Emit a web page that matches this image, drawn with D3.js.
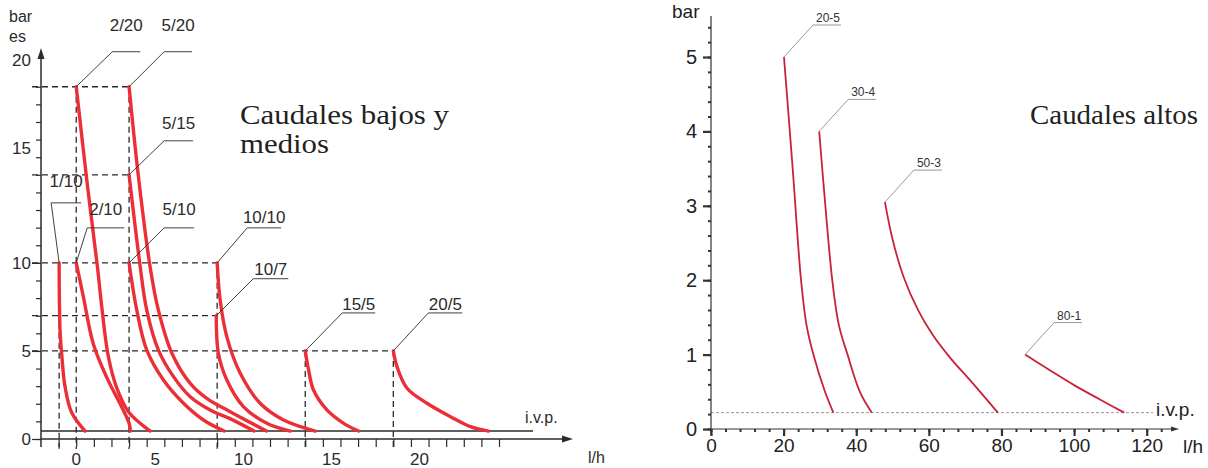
<!DOCTYPE html>
<html>
<head>
<meta charset="utf-8">
<script src="https://cdn.jsdelivr.net/npm/d3@7"></script>
<style>
body { margin: 0; background: #fff; }
svg { display: block; font-family: "Liberation Sans", Arial, sans-serif; }
.serif { font-family: "Liberation Serif", "Times New Roman", serif; }
</style>
</head>
<body>
<div id="graphic"></div>
<script>
// ---- left panel: caudales bajos y medios (x = l/h, y = bar) ----
var lowNames = ["1/10", "2/10", "2/20", "5/10", "5/15", "5/20", "10/10", "10/7", "15/5", "20/5"];
var low_1_10  = [[-0.97,10],[-0.92,6.2],[-0.8,4.5],[-0.64,3.0],[-0.26,1.5],[0.5,0.45]];
var low_2_10  = [[0,10],[0.4,8.1],[0.97,5.4],[1.73,3.5],[2.49,2.0],[3.0,0.9],[3.08,0.45]];
var low_2_20  = [[0,20],[0.6,14.7],[1.2,9.8],[1.45,7.5],[1.82,4.7],[2.3,2.9],[2.96,1.55],[4.2,0.45]];
var low_5_10  = [[3,10],[3.44,7.3],[4.0,5.06],[4.95,3.35],[6.09,2.03],[7.22,1.08],[8.4,0.45]];
var low_5_15  = [[3,15],[3.63,9.8],[4.0,7.33],[4.66,5.06],[5.52,3.54],[6.47,2.4],[7.6,1.65],[8.7,1.17],[10.1,0.45]];
var low_5_20  = [[3,20],[3.53,14.9],[4.19,9.8],[4.66,7.33],[5.43,4.87],[6.47,3.16],[7.41,2.31],[8.74,1.55],[10.8,0.45]];
var low_10_10 = [[8,10],[8.17,7.9],[8.55,5.8],[9.31,3.73],[10.44,2.03],[11.77,1.08],[13.57,0.45]];
var low_10_7  = [[7.95,7],[8.07,4.87],[8.55,3.35],[9.49,1.84],[10.82,0.89],[12.15,0.45]];
var low_15_5  = [[13,5],[13.19,3.92],[13.47,2.78],[14.23,1.65],[15.18,0.89],[16.03,0.45]];
var low_20_5  = [[18,5],[18.21,4.11],[18.78,2.88],[19.91,2.03],[21.24,1.27],[22.38,0.7],[23.4,0.45]];
var lowCurves = [low_1_10, low_2_10, low_2_20, low_5_10, low_5_15, low_5_20, low_10_10, low_10_7, low_15_5, low_20_5];
var lowIvp = 0.45;
var lowXLabels = [0, 5, 10, 15, 20];
var lowYLabels = [0, 5, 10, 15, 20];

// ---- right panel: caudales altos ----
var highNames = ["20-5", "30-4", "50-3", "80-1"];
var high_20_5 = [[20.1,5],[22.5,3.5],[24.8,2],[26.3,1.4],[28.2,1.0],[31.4,0.5],[33.7,0.22]];
var high_30_4 = [[29.8,4],[31.5,3],[33.4,2],[35.2,1.4],[37.6,1.0],[41,0.5],[44.3,0.22]];
var high_50_3 = [[47.9,3.05],[50,2.55],[53,2.05],[57,1.6],[61,1.27],[66,0.95],[72,0.62],[79,0.22]];
var high_80_1 = [[86.5,1.0],[93,0.8],[100,0.59],[107,0.4],[113.8,0.22]];
var highCurves = [high_20_5, high_30_4, high_50_3, high_80_1];
var highIvp = 0.22;
var highXTicks = [0, 20, 40, 60, 80, 100, 120];
var highYTicks = [0, 1, 2, 3, 4, 5];

var width = 1208, height = 468;
var ink = "#2b2b2b";

var svg = d3.select("#graphic").append("svg")
	.attr("width", width)
	.attr("height", height);

// leader offsets for the left labels: [elbow dx, elbow dy, line length, text gap]
var lowLeader = {
	"1/10": [-8, -60, 30, 16],
	"2/10": [11, -35, 37, 13],
	"2/20": [36, -35, 28, 21],
	"5/20": [35, -35, 28, 21],
	"5/15": [35, -34, 29, 12],
	"5/10": [35, -35, 30, 13],
	"10/10": [30, -35, 34, 5],
	"10/7": [37, -37, 35, 4],
	"15/5": [37, -38, 33, 3],
	"20/5": [35, -38, 34, 3]
};

/* ================= LEFT PANEL ================= */
var xL = d3.scaleLinear().domain([-2, 28.2]).range([41, 573]);
var yL = d3.scaleLinear().domain([0, 22.2]).range([439, 48]);

var left = svg.append("g").attr("class", "left");

// dashed guides from every curve start
var lowStarts = lowCurves.map(function(c, i) { return {name: lowNames[i], x: c[0][0], y: c[0][1]}; });
var hGuides = d3.rollups(lowStarts, function(v) { return d3.max(v, function(d) { return d.x; }); }, function(d) { return d.y; });
var vGuides = d3.rollups(lowStarts, function(v) { return d3.max(v, function(d) { return d.y; }); }, function(d) { return Math.round(d.x); });

left.selectAll(".hguide").data(hGuides).enter().append("line")
	.attr("class", "hguide")
	.attr("x1", xL(-2) - 9)
	.attr("x2", function(d) { return xL(d[1]); })
	.attr("y1", function(d) { return yL(d[0]); })
	.attr("y2", function(d) { return yL(d[0]); })
	.attr("stroke", ink).attr("stroke-width", 1.3).attr("stroke-dasharray", "6,4");

left.selectAll(".vguide").data(vGuides).enter().append("line")
	.attr("class", "vguide")
	.attr("x1", function(d) { var s = lowStarts.find(function(p) { return Math.round(p.x) === d[0]; }); return xL(s.x); })
	.attr("x2", function(d) { var s = lowStarts.find(function(p) { return Math.round(p.x) === d[0]; }); return xL(s.x); })
	.attr("y1", function(d) { return yL(d[1]); })
	.attr("y2", yL(0) + 10)
	.attr("stroke", ink).attr("stroke-width", 1.3).attr("stroke-dasharray", "6,4");

// y axis ticks
left.append("g")
	.attr("transform", "translate(" + xL(-2) + ",0)")
	.call(d3.axisLeft(yL).tickValues(d3.range(0, 21)).tickSize(5).tickFormat(""))
	.call(function(g) { g.select(".domain").remove(); g.selectAll("line").attr("stroke", ink).attr("stroke-width", 1.2); });
left.append("g")
	.attr("transform", "translate(" + xL(-2) + ",0)")
	.call(d3.axisLeft(yL).tickValues([0, 5, 10]).tickSize(9).tickFormat(""))
	.call(function(g) { g.select(".domain").remove(); g.selectAll("line").attr("stroke", ink).attr("stroke-width", 1.2); });

// x axis ticks
left.append("g")
	.attr("transform", "translate(0," + yL(0) + ")")
	.call(d3.axisBottom(xL).tickValues(d3.range(-1, 25)).tickSize(8).tickFormat(""))
	.call(function(g) { g.select(".domain").remove(); g.selectAll("line").attr("stroke", ink).attr("stroke-width", 1.2); });

// axis lines + arrows
left.append("line").attr("x1", xL(-2)).attr("x2", xL(-2)).attr("y1", yL(0) + 8).attr("y2", yL(22.2) + 4)
	.attr("stroke", ink).attr("stroke-width", 1.5);
left.append("path")
	.attr("d", "M" + xL(-2) + "," + yL(22.2) + "l-3.5,11l7,0z")
	.attr("fill", ink);
left.append("line").attr("x1", xL(-2)).attr("x2", xL(28.2) - 4).attr("y1", yL(0)).attr("y2", yL(0))
	.attr("stroke", ink).attr("stroke-width", 1.5);
left.append("path")
	.attr("d", "M" + xL(28.2) + "," + yL(0) + "l-11,-3.5l0,7z")
	.attr("fill", ink);

// i.v.p. line
left.append("line").attr("x1", xL(-2)).attr("x2", 533).attr("y1", yL(lowIvp)).attr("y2", yL(lowIvp))
	.attr("stroke", ink).attr("stroke-width", 1.4);
left.append("text").attr("x", 525).attr("y", 423).attr("font-size", 16).attr("fill", ink).text("i.v.p.");

// tick labels (the two upper labels sit higher than their ticks in the original figure)
left.selectAll(".ylab").data(lowYLabels).enter().append("text")
	.attr("class", "ylab")
	.attr("x", 31)
	.attr("y", function(d) { return yL(d) + (d >= 15 ? -27 : 0); })
	.attr("dy", "0.36em")
	.attr("text-anchor", "end")
	.attr("font-size", 17).attr("fill", ink)
	.text(function(d) { return d; });
left.selectAll(".xlab").data(lowXLabels).enter().append("text")
	.attr("class", "xlab")
	.attr("x", function(d) { return xL(d) + (d === 0 ? 0 : -9); })
	.attr("y", 465)
	.attr("text-anchor", "middle")
	.attr("font-size", 17).attr("fill", ink)
	.text(function(d) { return d; });

left.append("text").attr("x", 9).attr("y", 22).attr("font-size", 16).attr("fill", ink).text("bar");
left.append("text").attr("x", 9).attr("y", 42).attr("font-size", 16).attr("fill", ink).text("es");
left.append("text").attr("x", 588).attr("y", 463).attr("font-size", 16).attr("fill", ink).text("l/h");

// curves
var lineL = d3.line()
	.x(function(d) { return xL(d[0]); })
	.y(function(d) { return yL(d[1]); })
	.curve(d3.curveCatmullRom.alpha(0.5));

left.selectAll(".curve").data(lowCurves).enter().append("path")
	.attr("class", "curve")
	.attr("d", lineL)
	.attr("fill", "none")
	.attr("stroke", "#ec2f36")
	.attr("stroke-width", 3.4)
	.attr("stroke-linecap", "round");

// leaders + labels
lowStarts.forEach(function(s) {
	var o = lowLeader[s.name];
	var x0 = xL(s.x), y0 = yL(s.y);
	var ex = x0 + o[0], ey = y0 + o[1];
	left.append("polyline")
		.attr("points", [[x0, y0], [ex, ey], [ex + o[2], ey]].join(" "))
		.attr("fill", "none").attr("stroke", ink).attr("stroke-width", 0.9);
	left.append("text")
		.attr("x", ex + o[2] / 2)
		.attr("y", ey - o[3])
		.attr("text-anchor", "middle")
		.attr("font-size", 17).attr("fill", ink)
		.text(s.name);
});

var tl = left.append("text").attr("class", "serif").attr("font-size", 27).attr("fill", "#222");
tl.append("tspan").attr("x", 240).attr("y", 124).attr("textLength", 209).attr("lengthAdjust", "spacingAndGlyphs").text("Caudales bajos y");
tl.append("tspan").attr("x", 240).attr("y", 153).attr("textLength", 89).attr("lengthAdjust", "spacingAndGlyphs").text("medios");

/* ================= RIGHT PANEL ================= */
var xR = d3.scaleLinear().domain([0, 120]).range([711, 1146.7]);
var yR = d3.scaleLinear().domain([0, 5]).range([429, 57]);
var axisR = "#333";

var right = svg.append("g").attr("class", "right");

right.append("line").attr("x1", xR(0)).attr("x2", 1153).attr("y1", yR(highIvp)).attr("y2", yR(highIvp))
	.attr("stroke", "#9a9a9a").attr("stroke-width", 1).attr("stroke-dasharray", "3,2");
right.append("text").attr("x", 1156).attr("y", 416).attr("font-size", 19).attr("fill", "#222").text("i.v.p.");

right.append("g")
	.attr("transform", "translate(" + xR(0) + ",0)")
	.call(d3.axisLeft(yR).tickValues(d3.range(0, 5.5, 0.2)).tickSize(3).tickFormat(""))
	.call(function(g) { g.select(".domain").remove(); g.selectAll("line").attr("stroke", axisR).attr("stroke-width", 2); });
right.append("g")
	.attr("transform", "translate(" + xR(0) + ",0)")
	.call(d3.axisLeft(yR).tickValues(highYTicks).tickSize(8).tickPadding(6).tickFormat(d3.format("d")))
	.call(function(g) {
		g.select(".domain").remove();
		g.selectAll("line").attr("stroke", axisR).attr("stroke-width", 2.2);
		g.selectAll("text").attr("font-size", 20).attr("fill", "#222").attr("font-family", "Liberation Sans, Arial, sans-serif");
	});

right.append("g")
	.attr("transform", "translate(0," + yR(0) + ")")
	.call(d3.axisBottom(xR).tickValues(d3.range(0, 126, 4)).tickSize(3).tickFormat(""))
	.call(function(g) { g.select(".domain").remove(); g.selectAll("line").attr("stroke", axisR).attr("stroke-width", 2); });
right.append("g")
	.attr("transform", "translate(0," + yR(0) + ")")
	.call(d3.axisBottom(xR).tickValues(highXTicks).tickSize(7).tickPadding(3).tickFormat(d3.format("d")))
	.call(function(g) {
		g.select(".domain").remove();
		g.selectAll("line").attr("stroke", axisR).attr("stroke-width", 2.2);
		g.selectAll("text").attr("font-size", 19).attr("fill", "#222").attr("font-family", "Liberation Sans, Arial, sans-serif");
	});

right.append("line").attr("x1", xR(0)).attr("x2", xR(0)).attr("y1", yR(0) + 6).attr("y2", yR(5.55))
	.attr("stroke", axisR).attr("stroke-width", 1.2);
right.append("line").attr("x1", xR(0)).attr("x2", 1176).attr("y1", yR(0)).attr("y2", yR(0))
	.attr("stroke", axisR).attr("stroke-width", 1.2);
right.append("path").attr("d", "M1179," + yR(0) + "l-8,-2.5l0,5z").attr("fill", axisR);

right.append("text").attr("x", 672).attr("y", 18).attr("font-size", 19).attr("fill", "#222").text("bar");
right.append("text").attr("x", 1183).attr("y", 453).attr("font-size", 19).attr("fill", "#222").text("l/h");

var lineR = d3.line()
	.x(function(d) { return xR(d[0]); })
	.y(function(d) { return yR(d[1]); })
	.curve(d3.curveCatmullRom.alpha(0.5));

right.selectAll(".curve").data(highCurves).enter().append("path")
	.attr("class", "curve")
	.attr("d", lineR)
	.attr("fill", "none")
	.attr("stroke", "#c92238")
	.attr("stroke-width", 1.8);

highCurves.forEach(function(c, i) {
	var x0 = xR(c[0][0]), y0 = yR(c[0][1]);
	var ex = x0 + 29, ey = y0 - 32;
	right.append("polyline")
		.attr("points", [[x0, y0], [ex, ey], [ex + 28, ey]].join(" "))
		.attr("fill", "none").attr("stroke", "#9a9a9a").attr("stroke-width", 1);
	right.append("text")
		.attr("x", ex + 15)
		.attr("y", ey - 3)
		.attr("text-anchor", "middle")
		.attr("font-size", 12).attr("fill", "#333")
		.text(highNames[i]);
});

right.append("text").attr("class", "serif")
	.attr("x", 1030).attr("y", 124)
	.attr("font-size", 27).attr("fill", "#222")
	.attr("textLength", 168).attr("lengthAdjust", "spacingAndGlyphs")
	.text("Caudales altos");
</script>
</body>
</html>
